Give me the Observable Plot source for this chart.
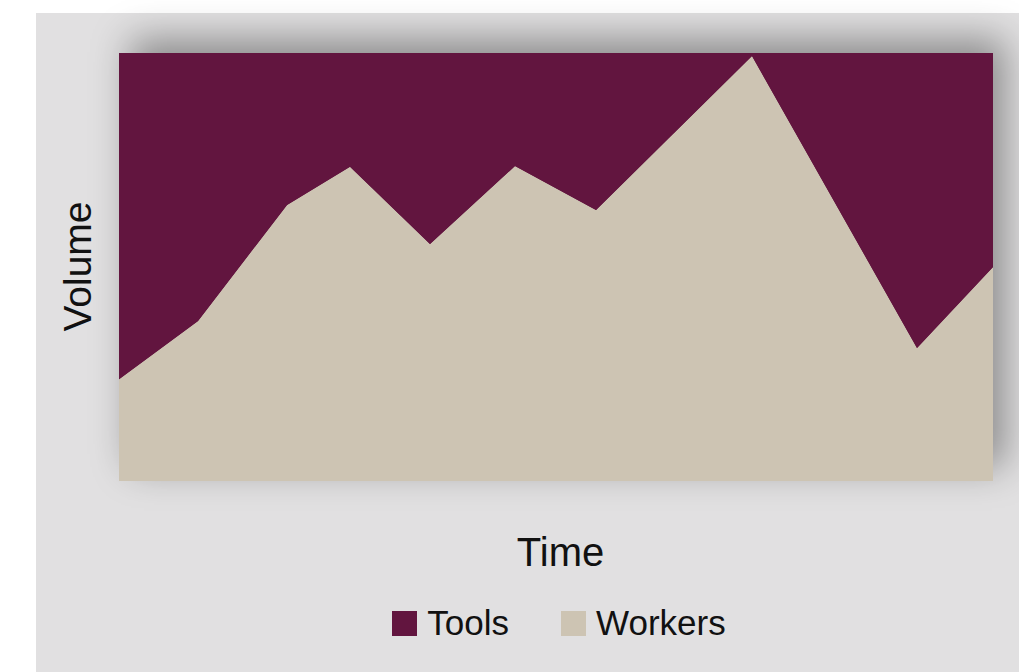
<!DOCTYPE html>
<html>
<head>
<meta charset="utf-8">
<script src="https://cdn.jsdelivr.net/npm/d3@7"></script>
<script src="https://cdn.jsdelivr.net/npm/@observablehq/plot@0.6"></script>
<style>
  html, body { margin: 0; padding: 0; background: #ffffff; }
  body { width: 1019px; height: 672px; position: relative; overflow: hidden; font-family: "Liberation Sans", Arial, Helvetica, sans-serif; }
  #panel { position: absolute; left: 36px; top: 13px; width: 983px; height: 659px; background: #e1e0e1; }
  #shadow { position: absolute; left: 119px; top: 53px; width: 874px; height: 428px; background: #62153f; box-shadow: 12px -14px 36px rgba(0,0,0,0.38); }
  #chart { position: absolute; left: 36px; top: 13px; }
  #legend { position: absolute; left: 122px; top: 603px; width: 874px; display: flex; justify-content: center; }
  #legend .lg-swatches { font-family: "Liberation Sans", Arial, sans-serif; font-size: 35px; color: #111; display: flex; align-items: center; min-height: 40px; margin: 0; }
  #legend .lg-swatch { margin-right: 52px !important; }
  #legend .lg-swatch:last-child { margin-right: 0 !important; }
  #legend .lg-swatch > svg { margin-right: 10px !important; }
</style>
</head>
<body>
<div id="panel"></div>
<div id="shadow"></div>
<div id="chart"></div>
<div id="legend"></div>
<script>
// Data
const times   = [0, 79, 168, 231, 311, 396, 477, 633, 798, 874];
const workers = [23.8, 37.4, 64.5, 73.4, 55.4, 73.6, 63.3, 99.3, 31.1, 50.0];
const tools   = [76.2, 62.6, 35.5, 26.6, 44.6, 26.4, 36.7, 0.7, 68.9, 50.0];
const seriesNames = ["Tools", "Workers"];
const seriesColors = ["#62153f", "#cdc4b3"];
const stackOrder = ["Workers", "Tools"];
const xLabel = "Time";
const yLabel = "Volume";

const rows = [];
times.forEach((t, i) => {
  rows.push({t, series: "Workers", value: workers[i]});
  rows.push({t, series: "Tools", value: tools[i]});
});

const chart = Plot.plot({
  width: 983,
  height: 590,
  marginLeft: 83,
  marginRight: 26,
  marginTop: 40,
  marginBottom: 122,
  style: {background: "transparent", fontFamily: "Liberation Sans, Arial, sans-serif"},
  x: {axis: null, domain: [d3.min(times), d3.max(times)]},
  y: {axis: null, domain: [0, 1]},
  color: {domain: seriesNames, range: seriesColors},
  marks: [
    Plot.areaY(rows, {x: "t", y: "value", z: "series", fill: "series", offset: "normalize", order: stackOrder}),
    Plot.text([xLabel], {frameAnchor: "bottom", dx: 4, dy: 84, fontSize: 40, fill: "#111"}),
    Plot.text([yLabel], {frameAnchor: "left", textAnchor: "middle", rotate: -90, dx: -41, dy: -1, fontSize: 39, fill: "#111"})
  ]
});
document.getElementById("chart").appendChild(chart);

const legend = Plot.legend({
  color: {domain: seriesNames, range: seriesColors},
  className: "lg",
  swatchSize: 25,
  style: {fontSize: "35px", fontFamily: "Liberation Sans, Arial, sans-serif"}
});
document.getElementById("legend").appendChild(legend);
</script>
</body>
</html>
